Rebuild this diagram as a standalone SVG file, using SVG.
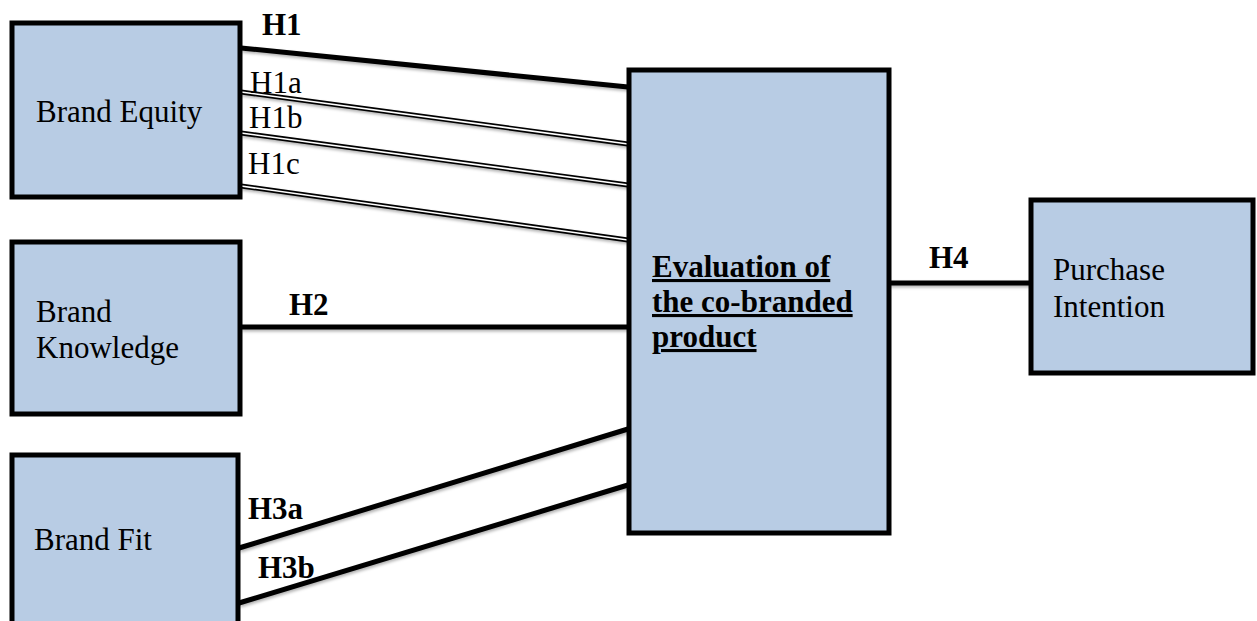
<svg xmlns="http://www.w3.org/2000/svg" width="1257" height="621" viewBox="0 0 1257 621">
<style>
.box{fill:#B8CCE4;stroke:#000;stroke-width:5}
text{font-family:'Liberation Serif','DejaVu Serif',serif;font-size:31px;fill:#000}
.b{font-weight:bold}
.thick{stroke:#000;stroke-width:5;fill:none}
.dbl{stroke:#000;stroke-width:5;fill:none}
.dblin{stroke:#fff;stroke-width:1.6;fill:none}
</style>
<defs>
<filter id="sh" x="-5%" y="-20%" width="110%" height="140%">
<feDropShadow dx="1" dy="2" stdDeviation="1.5" flood-color="#000" flood-opacity="0.3"/>
</filter>
</defs>
<g id="connectors">
<g filter="url(#sh)">
<line class="thick" x1="241" y1="48" x2="628" y2="87"/>
<line class="dbl" x1="241" y1="92" x2="628" y2="144"/>
<line class="dbl" x1="241" y1="133" x2="628" y2="185"/>
<line class="dbl" x1="241" y1="186" x2="628" y2="240"/>
<line class="thick" x1="241" y1="327" x2="628" y2="327"/>
<line class="thick" x1="239" y1="548" x2="628" y2="429"/>
<line class="thick" x1="239" y1="603" x2="628" y2="485"/>
<line class="thick" x1="889" y1="283" x2="1031" y2="283"/>
</g>
<line class="dblin" x1="241" y1="92" x2="628" y2="144"/>
<line class="dblin" x1="241" y1="133" x2="628" y2="185"/>
<line class="dblin" x1="241" y1="186" x2="628" y2="240"/>
<text class="b" x="262" y="35" font-family="Liberation Serif, DejaVu Serif, serif">H1</text>
<text x="250" y="93" font-family="Liberation Serif, DejaVu Serif, serif">H1a</text>
<text x="249" y="128" font-family="Liberation Serif, DejaVu Serif, serif">H1b</text>
<text x="248" y="174" font-family="Liberation Serif, DejaVu Serif, serif">H1c</text>
<text class="b" x="289" y="315" font-family="Liberation Serif, DejaVu Serif, serif">H2</text>
<text class="b" x="248" y="519" font-family="Liberation Serif, DejaVu Serif, serif">H3a</text>
<text class="b" x="258" y="578" font-family="Liberation Serif, DejaVu Serif, serif">H3b</text>
<text class="b" x="929" y="268" font-family="Liberation Serif, DejaVu Serif, serif">H4</text>
</g>
<g id="brand-equity">
<rect class="box" x="12" y="23" width="228" height="174"/>
<text x="36" y="122" font-family="Liberation Serif, DejaVu Serif, serif">Brand Equity</text>
</g>
<g id="brand-knowledge">
<rect class="box" x="12" y="242" width="228" height="172"/>
<text x="36" y="322" font-family="Liberation Serif, DejaVu Serif, serif">Brand</text>
<text x="36" y="358" font-family="Liberation Serif, DejaVu Serif, serif">Knowledge</text>
</g>
<g id="brand-fit">
<rect class="box" x="12" y="455" width="226" height="200"/>
<text x="34" y="550" font-family="Liberation Serif, DejaVu Serif, serif">Brand Fit</text>
</g>
<g id="evaluation">
<rect class="box" x="629" y="70" width="260" height="463"/>
<text class="b" x="652" y="277" text-decoration="underline" font-family="Liberation Serif, DejaVu Serif, serif">Evaluation of</text>
<text class="b" x="652" y="312" text-decoration="underline" font-family="Liberation Serif, DejaVu Serif, serif">the co-branded</text>
<text class="b" x="652" y="347" text-decoration="underline" font-family="Liberation Serif, DejaVu Serif, serif">product</text>
</g>
<g id="purchase-intention">
<rect class="box" x="1031" y="200" width="222" height="173"/>
<text x="1053" y="280" font-family="Liberation Serif, DejaVu Serif, serif">Purchase</text>
<text x="1053" y="317" font-family="Liberation Serif, DejaVu Serif, serif">Intention</text>
</g>
</svg>
